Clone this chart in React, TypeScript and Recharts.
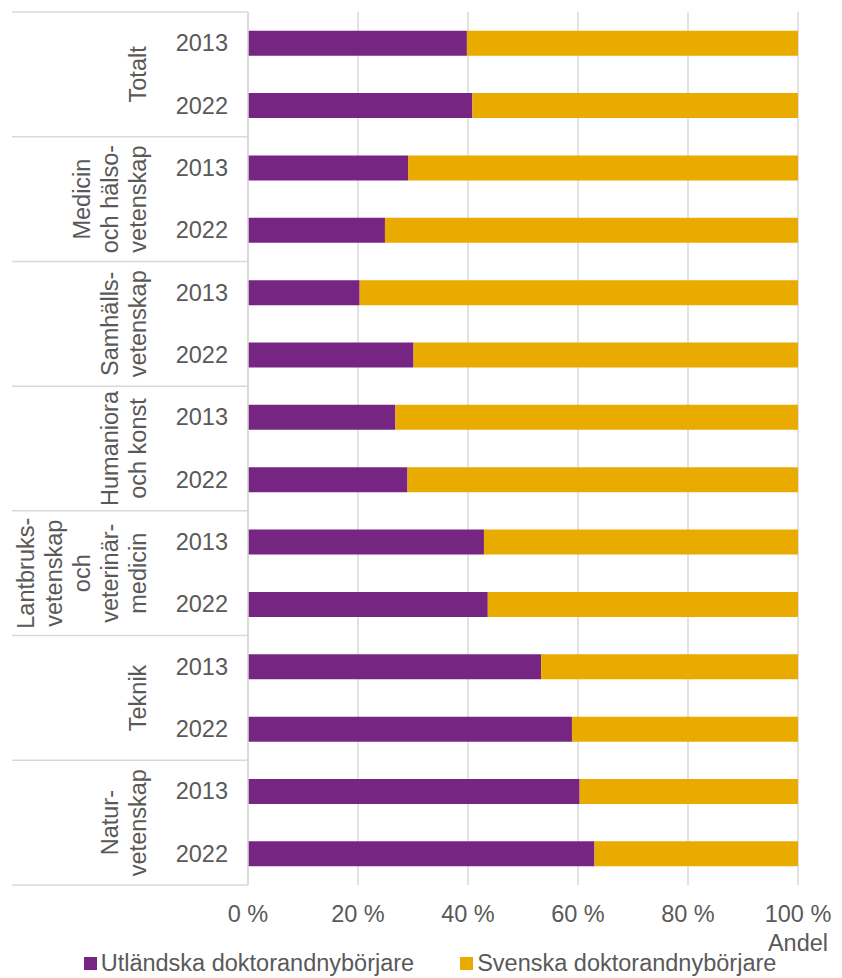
import React from 'react'
import { BarChart, Bar, XAxis, YAxis, CartesianGrid, Legend } from 'recharts'

const groups = [
  ['Totalt'],
  ['Medicin', 'och hälso-', 'vetenskap'],
  ['Samhälls-', 'vetenskap'],
  ['Humaniora', 'och konst'],
  ['Lantbruks-', 'vetenskap', 'och', 'veterinär-', 'medicin'],
  ['Teknik'],
  ['Natur-', 'vetenskap'],
]
const years = ['2013', '2022']
const utlandska2013 = [39.8, 29.1, 20.3, 26.8, 42.9, 53.3, 60.3]
const utlandska2022 = [40.8, 24.9, 30.1, 29.0, 43.6, 58.9, 63.0]
const svenska2013 = [60.2, 70.9, 79.7, 73.2, 57.1, 46.7, 39.7]
const svenska2022 = [59.2, 75.1, 69.9, 71.0, 56.4, 41.1, 37.0]
const xTicks = [0, 20, 40, 60, 80, 100]
const seriesNames = ['Utländska doktorandnybörjare', 'Svenska doktorandnybörjare']

const COLORS = ['#772583', '#EAAB00']
const FONT = "'Liberation Sans', Arial, sans-serif"
const TEXT = '#595959'
const GRID = '#D9D9D9'
const FS = 23.5

const W = 842
const H = 978
const TOP = 12
const BOTTOM = 885

const data = groups.flatMap((g, gi) =>
  years.map((year, yi) => ({
    key: `${gi}-${year}`,
    group: gi,
    year,
    yi,
    utl: yi === 0 ? utlandska2013[gi] : utlandska2022[gi],
    sve: yi === 0 ? svenska2013[gi] : svenska2022[gi],
  }))
)

const BAND = (BOTTOM - TOP) / data.length

const YearTick = (props: any) => {
  const { x, y, index } = props
  const row = data[index]
  if (!row) return null
  const half = BAND / 2
  const lines = groups[row.group]
  const cy = y + half
  return (
    <g>
      <text x={x - 20} y={y} textAnchor="end" dominantBaseline="central" fill={TEXT} fontSize={FS} fontFamily={FONT}>
        {row.year}
      </text>
      {row.yi === 0 &&
        lines.map((line, i) => {
          const lx = x - 110 - (lines.length - 1 - i) * 28
          return (
            <text
              key={i}
              x={lx}
              y={cy}
              transform={`rotate(-90 ${lx} ${cy})`}
              textAnchor="middle"
              dominantBaseline="central"
              fill={TEXT}
              fontSize={FS}
              fontFamily={FONT}
            >
              {line}
            </text>
          )
        })}
      {row.yi === 0 && <line x1={x - 236} x2={x} y1={y - half} y2={y - half} stroke={GRID} strokeWidth={1.5} />}
      {index === data.length - 1 && (
        <line x1={x - 236} x2={x} y1={y + half} y2={y + half} stroke={GRID} strokeWidth={1.5} />
      )}
    </g>
  )
}

const AndelLabel = (props: any) => {
  const vb = props.viewBox || {}
  return (
    <text
      x={vb.x + vb.width + 30}
      y={vb.y + 58}
      textAnchor="end"
      dominantBaseline="central"
      fill={TEXT}
      fontSize={FS}
      fontFamily={FONT}
    >
      Andel
    </text>
  )
}

const LegendContent = () => (
  <div
    style={{
      display: 'flex',
      justifyContent: 'center',
      alignItems: 'center',
      gap: 46,
      height: 30,
      paddingLeft: 18,
      fontFamily: FONT,
      fontSize: FS,
      color: TEXT,
      whiteSpace: 'nowrap',
    }}
  >
    {seriesNames.map((name, i) => (
      <div key={name} style={{ display: 'flex', alignItems: 'center' }}>
        <span style={{ display: 'inline-block', width: 13, height: 13, background: COLORS[i], marginRight: 4 }} />
        {name}
      </div>
    ))}
  </div>
)

export default function App() {
  return (
    <div style={{ position: 'absolute', left: 0, top: 0, background: '#fff' }}>
      <BarChart
        width={W}
        height={H}
        data={data}
        layout="vertical"
        margin={{ top: TOP, right: 44, bottom: 0, left: 0 }}
        barCategoryGap="30%"
      >
        <CartesianGrid horizontal={false} stroke={GRID} strokeWidth={1.5} />
        <XAxis
          type="number"
          domain={[0, 100]}
          ticks={xTicks}
          tickFormatter={(v) => `${v} %`}
          axisLine={false}
          tickLine={false}
          tickSize={0}
          tickMargin={20}
          height={63}
          tick={{ fill: TEXT, fontSize: FS, fontFamily: FONT }}
          label={<AndelLabel />}
        />
        <YAxis
          type="category"
          dataKey="key"
          width={248}
          interval={0}
          tickLine={false}
          tickSize={0}
          tickMargin={0}
          axisLine={{ stroke: GRID, strokeWidth: 1.5 }}
          tick={<YearTick />}
        />
        <Legend verticalAlign="bottom" content={<LegendContent />} wrapperStyle={{ left: 0, width: W, height: 30 }} />
        <Bar dataKey="utl" stackId="a" fill={COLORS[0]} name={seriesNames[0]} isAnimationActive={false} />
        <Bar dataKey="sve" stackId="a" fill={COLORS[1]} name={seriesNames[1]} isAnimationActive={false} />
      </BarChart>
    </div>
  )
}
